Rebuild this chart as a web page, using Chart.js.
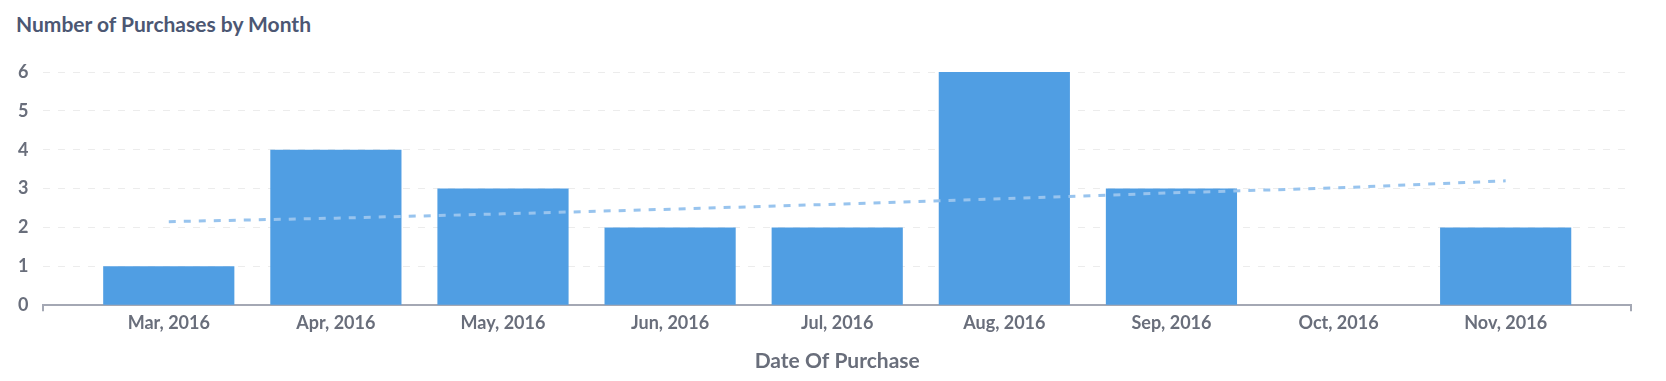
<!DOCTYPE html>
<html>
<head>
<meta charset="utf-8">
<script src="https://cdn.jsdelivr.net/npm/chart.js@4"></script>
<style>
  body { margin: 0; background: #fff; }
  #wrap { position: relative; width: 1666px; height: 381px; }
  #title { position: absolute; left: 16px; top: 11px; font: 700 21px Lato, sans-serif; color: #4c5773; }
  canvas { position: absolute; left: 0; top: 0; }
</style>
</head>
<body>
<div id="wrap">
  <div id="title">Number of Purchases by Month</div>
  <canvas id="myChart" width="1666" height="381"></canvas>
</div>
<script>
// months on the x axis
const months = ["Mar, 2016", "Apr, 2016", "May, 2016", "Jun, 2016", "Jul, 2016", "Aug, 2016", "Sep, 2016", "Oct, 2016", "Nov, 2016"]
// count of purchases per month
const purchases = [1, 4, 3, 2, 2, 6, 3, 0, 2]
// trend line
const trend = [2.15, 2.24, 2.35, 2.47, 2.6, 2.74, 2.89, 3.02, 3.2]
const yTicks = [0, 1, 2, 3, 4, 5, 6]

window.onload = function(){
  const ctx = document.getElementById("myChart")
  const xMin = -0.75, xMax = months.length - 0.25

  try {
  new Chart(ctx, {
    type: "bar",
    data: {
      datasets: [{
        type: "line",
        label: "Trend",
        data: trend.map((v, i) => ({x: i, y: v})),
        borderColor: "#98c4ee",
        borderWidth: 3,
        borderDash: [7, 8],
        pointRadius: 0,
        fill: false,
        tension: 0,
        order: 0
      },{
        label: "Count",
        data: purchases.map((v, i) => ({x: i, y: v})),
        backgroundColor: "#509ee3",
        categoryPercentage: 1,
        // the edge ticks sit 0.75 unit away, so the sample size is 0.75 of a month
        barPercentage: 0.785 / 0.75,
        order: 1
      }]
    },
    options: {
      responsive: false,
      animation: false,
      layout: {padding: {top: 72, left: 3, right: 35, bottom: 7}},
      plugins: {
        legend: {display: false},
        tooltip: {enabled: false}
      },
      scales: {
        x: {
          type: "linear",
          offset: false,
          min: xMin,
          max: xMax,
          afterBuildTicks: function(axis){
            axis.ticks = [{value: xMin}].concat(months.map((m, i) => ({value: i}))).concat([{value: xMax}])
          },
          ticks: {
            autoSkip: false,
            maxRotation: 0,
            padding: 1,
            color: "#696e7b",
            font: {family: "Lato", weight: "bold", size: 18},
            callback: function(value){
              return Number.isInteger(value) && months[value] ? months[value] : ""
            }
          },
          grid: {
            offset: false,
            drawOnChartArea: false,
            drawTicks: true,
            tickLength: 6,
            lineWidth: 2,
            color: function(c){
              const n = c.scale.ticks.length
              return (c.index === 0 || c.index === n - 1) ? "#a4a8b4" : "rgba(0,0,0,0)"
            }
          },
          border: {display: true, color: "#a4a8b4", width: 2},
          title: {
            display: true,
            text: "Date Of Purchase",
            color: "#696e7b",
            font: {family: "Lato", weight: "bold", size: 21},
            padding: {top: 14, bottom: 0}
          }
        },
        y: {
          min: 0,
          max: 6,
          afterBuildTicks: function(axis){
            axis.ticks = yTicks.map(v => ({value: v}))
          },
          ticks: {
            padding: 15,
            color: "#696e7b",
            font: {family: "Lato", weight: "bold", size: 18}
          },
          grid: {
            drawTicks: false,
            color: function(c){ return c.tick.value === 0 ? "rgba(0,0,0,0)" : "#ececec" },
            lineWidth: 1
          },
          border: {display: false, dash: [7, 8]}
        }
      }
    }
  })
  }catch(error)
    { console.log(error) }
}
</script>
</body>
</html>
